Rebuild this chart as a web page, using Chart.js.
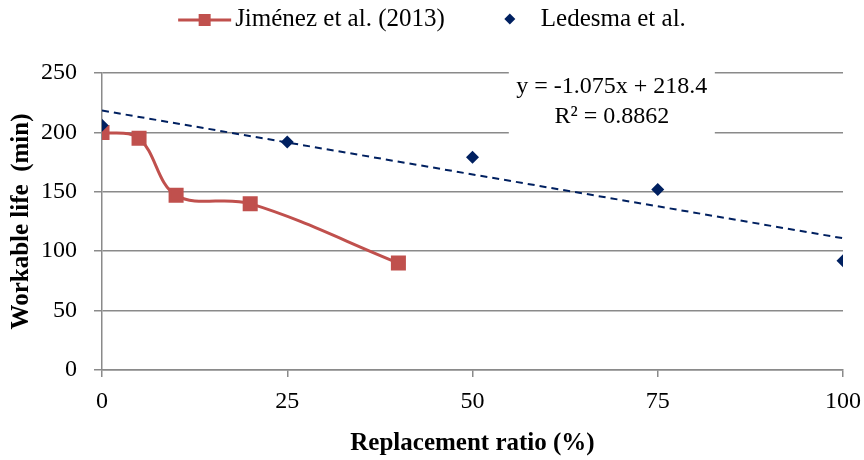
<!DOCTYPE html>
<html>
<head>
<meta charset="utf-8">
<script src="https://cdn.jsdelivr.net/npm/chart.js@4.4.0/dist/chart.umd.min.js"></script>
<style>
  html, body { margin: 0; padding: 0; background: #ffffff; }
  #wrap { width: 864px; height: 460px; }
</style>
</head>
<body>
<div id="wrap"><canvas id="chart" width="864" height="460"></canvas></div>
<script>
// Replacement ratio (%) and workable life (min) for each study
const jimenezX = [0, 5, 10, 20, 40];
const jimenezY = [200, 195, 147, 140, 90];
const ledesmaX = [0, 25, 50, 75, 100];
const ledesmaY = [206, 192, 179, 152, 92];

// Linear fit of the Ledesma et al. series
const trendSlope = -1.075;
const trendIntercept = 218.4;
const trendR2 = 0.8862;
const trendRange = [0, 100];

const xTicks = [0, 25, 50, 75, 100];
const yTicks = [0, 50, 100, 150, 200, 250];

const seriesNames = ['Jiménez et al. (2013)', 'Ledesma et al.'];

const RED = '#C0504D';
const NAVY = '#002060';
const GRID = '#8a8a8a';
const FONT = "'Liberation Serif', 'Times New Roman', serif";

const toPoints = (xs, ys) => xs.map((x, i) => ({ x: x, y: ys[i] }));

// Legend row above the plot: line + square for the first series, diamond for the second
const topLegend = {
  id: 'topLegend',
  afterDraw(chart, args, opts) {
    const ctx = chart.ctx;
    ctx.save();
    ctx.font = opts.size + 'px ' + FONT;
    const t1 = ctx.measureText(seriesNames[0]).width;
    const t2 = ctx.measureText(seriesNames[1]).width;
    const total = opts.lineLen + opts.lineGap + t1 + opts.itemGap + opts.markGap + t2;
    let x = (chart.width - total) / 2;
    const y = opts.y;
    // first entry
    ctx.strokeStyle = RED;
    ctx.lineWidth = 3;
    ctx.beginPath();
    ctx.moveTo(x, y + 1);
    ctx.lineTo(x + opts.lineLen, y + 1);
    ctx.stroke();
    ctx.fillStyle = RED;
    ctx.fillRect(x + opts.lineLen / 2 - 6, y + 1 - 6, 12, 12);
    x += opts.lineLen + opts.lineGap;
    ctx.fillStyle = '#000';
    ctx.textAlign = 'left';
    ctx.textBaseline = 'middle';
    ctx.fillText(seriesNames[0], x, y);
    x += t1 + opts.itemGap;
    // second entry
    ctx.fillStyle = NAVY;
    ctx.beginPath();
    ctx.moveTo(x, y - 5.5);
    ctx.lineTo(x + 5.5, y);
    ctx.lineTo(x, y + 5.5);
    ctx.lineTo(x - 5.5, y);
    ctx.closePath();
    ctx.fill();
    x += opts.markGap;
    ctx.fillStyle = '#000';
    ctx.fillText(seriesNames[1], x, y);
    ctx.restore();
  }
};

// Equation box for the fitted line
const trendLabel = {
  id: 'trendLabel',
  afterDatasetsDraw(chart, args, opts) {
    const { ctx, scales, chartArea } = chart;
    const cx = scales.x.getPixelForValue(opts.atX);
    const top = chartArea.top;
    ctx.save();
    ctx.fillStyle = '#ffffff';
    ctx.fillRect(cx - opts.boxW / 2, top - 5, opts.boxW, opts.boxH);
    ctx.fillStyle = '#000000';
    ctx.font = opts.size + 'px ' + FONT;
    ctx.textAlign = 'center';
    ctx.textBaseline = 'middle';
    const sign = trendIntercept >= 0 ? ' + ' : ' - ';
    ctx.fillText('y = ' + trendSlope.toFixed(3) + 'x' + sign + Math.abs(trendIntercept).toFixed(1), cx, top + 14);
    ctx.fillText('R² = ' + trendR2.toFixed(4), cx, top + 44);
    ctx.restore();
  }
};

new Chart(document.getElementById('chart'), {
  type: 'scatter',
  data: {
    datasets: [
      {
        label: seriesNames[0],
        data: toPoints(jimenezX, jimenezY),
        showLine: true,
        borderColor: RED,
        backgroundColor: RED,
        borderWidth: 3,
        tension: 0.36,
        pointStyle: 'rect',
        pointRadius: 8.5,
        pointHoverRadius: 8.5,
        order: 1
      },
      {
        label: seriesNames[1],
        data: toPoints(ledesmaX, ledesmaY),
        showLine: false,
        borderColor: NAVY,
        backgroundColor: NAVY,
        pointStyle: 'rectRot',
        pointRadius: 6.5,
        pointHoverRadius: 6.5,
        borderWidth: 0,
        order: 0
      },
      {
        label: 'trend',
        data: trendRange.map(x => ({ x: x, y: trendSlope * x + trendIntercept })),
        showLine: true,
        borderColor: NAVY,
        borderWidth: 2,
        borderDash: [7, 5],
        pointRadius: 0,
        pointHoverRadius: 0,
        order: 2
      }
    ]
  },
  options: {
    responsive: false,
    animation: false,
    devicePixelRatio: 1,
    layout: { padding: { left: 0, right: 0, top: 73, bottom: 0 } },
    plugins: {
      tooltip: { enabled: false },
      legend: { display: false },
      topLegend: { y: 19, size: 25, lineLen: 53, lineGap: 4, itemGap: 65, markGap: 31 },
      trendLabel: { atX: 68.8, boxW: 206, boxH: 70, size: 24 }
    },
    scales: {
      x: {
        type: 'linear',
        min: 0,
        max: 100,
        afterBuildTicks: axis => { axis.ticks = xTicks.map(v => ({ value: v })); },
        afterFit: axis => { axis.height = 90; axis.paddingRight = 21; },
        grid: { drawOnChartArea: false, drawTicks: true, tickLength: 7, color: GRID, lineWidth: 1.5 },
        border: { color: GRID, width: 1.5 },
        ticks: { color: '#000', padding: 10, font: { family: FONT, size: 24 }, maxRotation: 0 },
        title: { display: true, text: 'Replacement ratio (%)', color: '#000', font: { family: FONT, size: 25, weight: 'bold' }, padding: { top: 12, bottom: 1 } }
      },
      y: {
        type: 'linear',
        min: 0,
        max: 250,
        afterBuildTicks: axis => { axis.ticks = yTicks.map(v => ({ value: v })); },
        afterFit: axis => { axis.width = 102; },
        grid: { drawTicks: true, tickLength: 8, color: GRID, lineWidth: 1.5 },
        border: { color: GRID, width: 1.5 },
        ticks: { color: '#000', padding: 17, font: { family: FONT, size: 24 } },
        title: { display: true, text: 'Workable life  (min)', color: '#000', font: { family: FONT, size: 25, weight: 'bold' }, padding: { top: 7, bottom: 3 } }
      }
    }
  },
  plugins: [trendLabel, topLegend]
});
</script>
</body>
</html>
